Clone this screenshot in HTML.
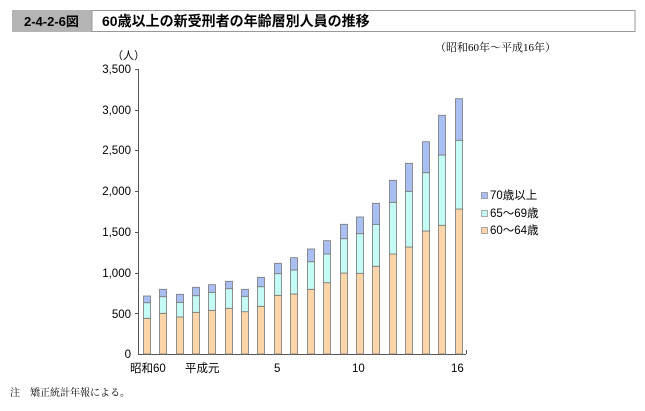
<!DOCTYPE html>
<html><head><meta charset="utf-8"><style>
body{margin:0;background:#fff;width:645px;height:406px;overflow:hidden;font-family:"Liberation Sans","Noto Sans CJK JP",sans-serif}
</style></head><body>
<svg width="645" height="406" xmlns="http://www.w3.org/2000/svg" font-family="Liberation Sans, Noto Sans CJK JP, sans-serif">
<rect x="12" y="10" width="80" height="22" fill="#b4b4b4"/>
<rect x="92" y="10.5" width="543" height="21" fill="#fff" stroke="#999"/>
<text x="24" y="26" font-size="13" font-weight="bold">2-4-2-6図</text>
<text x="102" y="26" font-size="14" font-weight="bold">60歳以上の新受刑者の年齢層別人員の推移</text>
<text x="435" y="51" font-size="11" font-family="Liberation Serif, Noto Serif CJK SC, serif">（昭和60年～平成16年）</text>
<text x="112" y="59" font-size="11">（人）</text>
<g font-size="11.5" text-anchor="end">
<text x="131" y="73">3,500</text><text x="131" y="114">3,000</text><text x="131" y="154">2,500</text>
<text x="131" y="195">2,000</text><text x="131" y="236">1,500</text><text x="131" y="277">1,000</text>
<text x="131" y="318">500</text><text x="131" y="358">0</text>
</g>
<g stroke="#555" stroke-width="1">
<line x1="138.5" y1="69" x2="138.5" y2="354"/><line x1="138" y1="354.5" x2="466" y2="354.5"/>
<line x1="135" y1="69.5" x2="138" y2="69.5"/><line x1="135" y1="110.5" x2="138" y2="110.5"/><line x1="135" y1="150.5" x2="138" y2="150.5"/><line x1="135" y1="191.5" x2="138" y2="191.5"/><line x1="135" y1="232.5" x2="138" y2="232.5"/><line x1="135" y1="273.5" x2="138" y2="273.5"/><line x1="135" y1="313.5" x2="138" y2="313.5"/>
<line x1="466.5" y1="350" x2="466.5" y2="354"/>
</g>
<g stroke="#777" stroke-width="0.8">
<g fill="#fcd5a8">
<rect x="143.5" y="318.3" width="7" height="35.7"/>
<rect x="159.5" y="313.3" width="7" height="40.7"/>
<rect x="176.5" y="317" width="7" height="37"/>
<rect x="192.5" y="312.3" width="7" height="41.7"/>
<rect x="208.5" y="310.3" width="7" height="43.7"/>
<rect x="225.5" y="308.3" width="7" height="45.7"/>
<rect x="241.5" y="311.7" width="7" height="42.3"/>
<rect x="257.5" y="306.3" width="7" height="47.7"/>
<rect x="274.5" y="295.3" width="7" height="58.7"/>
<rect x="290.5" y="294" width="7" height="60"/>
<rect x="307.5" y="289.3" width="7" height="64.7"/>
<rect x="323.5" y="282.7" width="7" height="71.3"/>
<rect x="340.5" y="273" width="7" height="81"/>
<rect x="356.5" y="273.3" width="7" height="80.7"/>
<rect x="372.5" y="266.3" width="7" height="87.7"/>
<rect x="389.5" y="254" width="7" height="100"/>
<rect x="405.5" y="247" width="7" height="107"/>
<rect x="422.5" y="231" width="7" height="123"/>
<rect x="438.5" y="225.3" width="7" height="128.7"/>
<rect x="455.5" y="209" width="7" height="145"/>
</g>
<g fill="#c5fbf5">
<rect x="143.5" y="302.7" width="7" height="15.6"/>
<rect x="159.5" y="296.7" width="7" height="16.6"/>
<rect x="176.5" y="302.3" width="7" height="14.7"/>
<rect x="192.5" y="295.7" width="7" height="16.6"/>
<rect x="208.5" y="292.3" width="7" height="18"/>
<rect x="225.5" y="288.7" width="7" height="19.6"/>
<rect x="241.5" y="296.3" width="7" height="15.4"/>
<rect x="257.5" y="286.7" width="7" height="19.6"/>
<rect x="274.5" y="273.7" width="7" height="21.6"/>
<rect x="290.5" y="270" width="7" height="24"/>
<rect x="307.5" y="261.7" width="7" height="27.6"/>
<rect x="323.5" y="254" width="7" height="28.7"/>
<rect x="340.5" y="238.7" width="7" height="34.3"/>
<rect x="356.5" y="233.7" width="7" height="39.6"/>
<rect x="372.5" y="224.3" width="7" height="42"/>
<rect x="389.5" y="202.3" width="7" height="51.7"/>
<rect x="405.5" y="191.3" width="7" height="55.7"/>
<rect x="422.5" y="172.7" width="7" height="58.3"/>
<rect x="438.5" y="155" width="7" height="70.3"/>
<rect x="455.5" y="140.3" width="7" height="68.7"/>
</g>
<g fill="#a9bff2">
<rect x="143.5" y="296" width="7" height="6.7"/>
<rect x="159.5" y="289.3" width="7" height="7.4"/>
<rect x="176.5" y="294.3" width="7" height="8"/>
<rect x="192.5" y="287.3" width="7" height="8.4"/>
<rect x="208.5" y="284.7" width="7" height="7.6"/>
<rect x="225.5" y="281.3" width="7" height="7.4"/>
<rect x="241.5" y="289.3" width="7" height="7"/>
<rect x="257.5" y="277.3" width="7" height="9.4"/>
<rect x="274.5" y="263.3" width="7" height="10.4"/>
<rect x="290.5" y="257.7" width="7" height="12.3"/>
<rect x="307.5" y="249" width="7" height="12.7"/>
<rect x="323.5" y="240.7" width="7" height="13.3"/>
<rect x="340.5" y="224.3" width="7" height="14.4"/>
<rect x="356.5" y="217" width="7" height="16.7"/>
<rect x="372.5" y="203.3" width="7" height="21"/>
<rect x="389.5" y="180.3" width="7" height="22"/>
<rect x="405.5" y="163.3" width="7" height="28"/>
<rect x="422.5" y="141.7" width="7" height="31"/>
<rect x="438.5" y="115.3" width="7" height="39.7"/>
<rect x="455.5" y="98.7" width="7" height="41.6"/>
</g>
</g>
<g font-size="11.5">
<text x="130" y="372">昭和60</text><text x="185" y="372">平成元</text>
<text x="274" y="372">5</text><text x="352" y="372">10</text><text x="451" y="372">16</text>
</g>
<g font-size="11.5">
<rect x="481.5" y="192.5" width="6" height="6" fill="#a9bff2" stroke="#777" stroke-width="0.6"/><text x="490" y="199">70歳以上</text>
<rect x="481.5" y="210.5" width="6" height="6" fill="#c5fbf5" stroke="#777" stroke-width="0.6"/><text x="490" y="217">65～69歳</text>
<rect x="481.5" y="227.5" width="6" height="6" fill="#fcd5a8" stroke="#777" stroke-width="0.6"/><text x="490" y="234">60～64歳</text>
</g>
<text x="10" y="396" font-size="10" font-family="Liberation Serif, Noto Serif CJK SC, serif">注　矯正統計年報による。</text>
</svg>
</body></html>
